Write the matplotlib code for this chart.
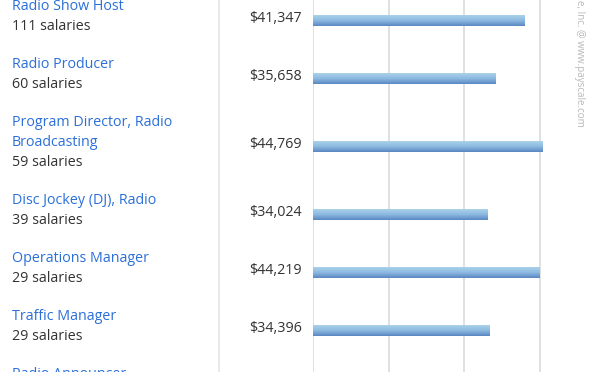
import matplotlib
matplotlib.use("Agg")
import matplotlib.pyplot as plt
import numpy as np
from matplotlib.colors import LinearSegmentedColormap

# ---- data ----
job_titles = [
    ["Radio Show Host"],
    ["Radio Producer"],
    ["Program Director, Radio", "Broadcasting"],
    ["Disc Jockey (DJ), Radio"],
    ["Operations Manager"],
    ["Traffic Manager"],
    ["Radio Announcer"],
]
salary_counts = [111, 60, 59, 39, 29, 29, None]
median_pay = [41347, 35658, 44769, 34024, 44219, 34396, None]
grid_values = [0, 14800, 29600, 44400]
watermark = "e, Inc. @ www.payscale.com"

# ---- style ----
W, H, DPI = 600, 372, 100
FONT = "Open Sans"
BLUE = "#2b6fd9"
DARK = "#333333"
FS = 10.3
px_per_dollar = 0.005117
bar_left_px = 313
line_gap = 20
row_base = 38
bar_h = 11

fig = plt.figure(figsize=(W / DPI, H / DPI), dpi=DPI)
tax = fig.add_axes([0, 0, 1, 1])
tax.set_xlim(0, W)
tax.set_ylim(H, 0)
tax.axis("off")

bax = fig.add_axes([bar_left_px / W, 0, (W - bar_left_px) / W, 1])
bax.axis("off")
bax.patch.set_alpha(0)

# gridlines
for g in grid_values:
    bax.axvline(g, color="#e0e0e0", lw=1.4, zorder=0)

# separator
tax.axvline(218.5, color="#e6e6e6", lw=1.2, zorder=0)

grad = np.linspace(0, 1, 64).reshape(-1, 1)
cmap = LinearSegmentedColormap.from_list("g", ["#aad2ec", "#8cb9e0", "#5a86c2"])

T = 7.0
for titles, cnt, pay in zip(job_titles, salary_counts, median_pay):
    n = len(titles)
    for i, t in enumerate(titles):
        tax.text(12, T + i * line_gap, t, color=BLUE, fontsize=FS, family=FONT,
                 ha="left", va="center")
    if cnt is not None:
        tax.text(12, T + n * line_gap, f"{cnt} salaries", color=DARK, fontsize=FS,
                 family=FONT, ha="left", va="center")
    if pay is not None:
        ylab = T + n * 10 + 2
        tax.text(302, ylab, f"${pay:,}", color=DARK, fontsize=FS, family=FONT,
                 ha="right", va="center")
        yc = ylab + 1.5
        bax.imshow(grad, cmap=cmap, aspect="auto",
                   extent=[0, pay, yc + bar_h / 2, yc - bar_h / 2],
                   interpolation="bilinear", zorder=2)
    T += row_base + line_gap * n

bax.set_xlim(0, (W - bar_left_px) / px_per_dollar)
bax.set_ylim(H, 0)

tax.text(579, 0, watermark, rotation=-90, color="#b8b8b8", fontsize=7,
         family=FONT, ha="center", va="top")

fig.savefig("out.png", dpi=DPI)
